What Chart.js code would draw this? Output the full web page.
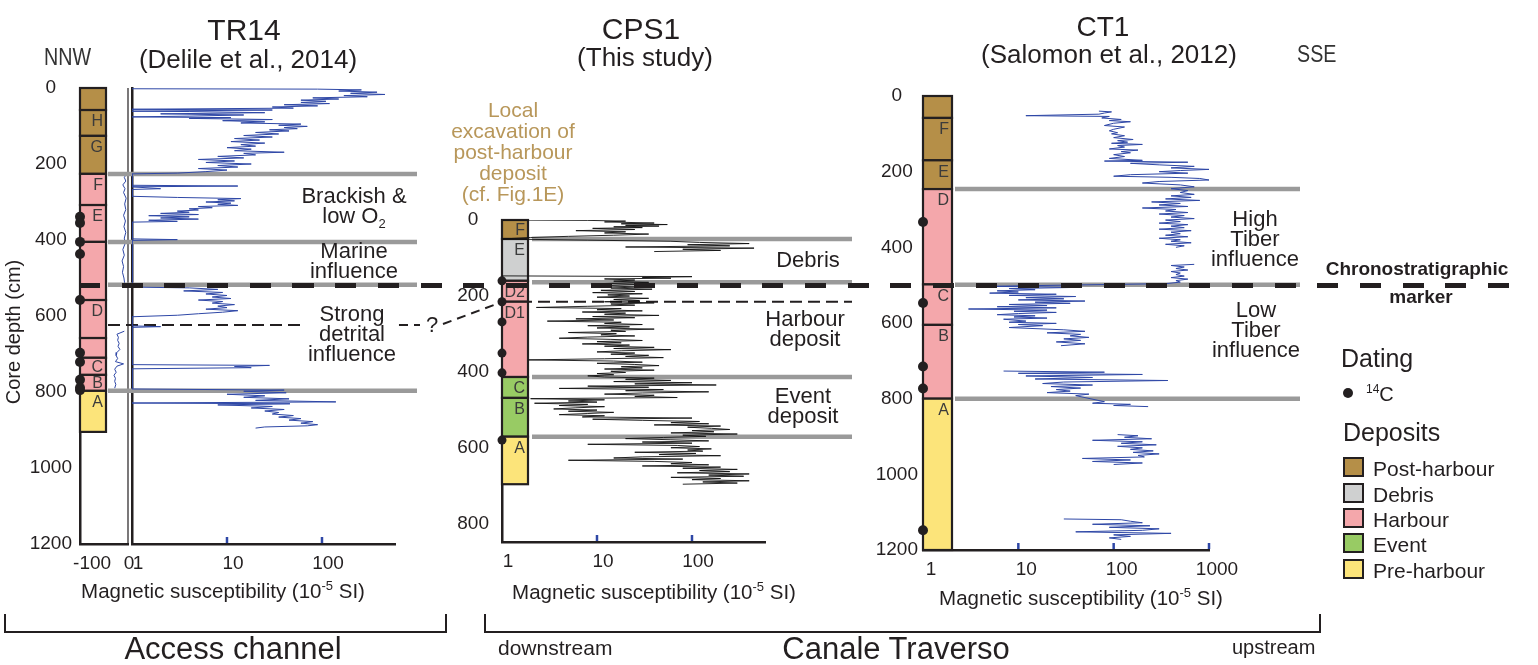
<!DOCTYPE html>
<html>
<head>
<meta charset="utf-8">
<script src="https://cdn.jsdelivr.net/npm/chart.js@4.4.1/dist/chart.umd.min.js"></script>
<style>
  body { margin: 0; background: #fff; }
  #fig { position: relative; width: 1538px; height: 665px; overflow: hidden;
         font-family: "Liberation Sans", Arial, Helvetica, sans-serif; color: #231f20; }
  #fig canvas { position: absolute; }
  .t { position: absolute; white-space: nowrap; }
  .c { transform: translateX(-50%); text-align: center; }
  .note { font-size: 22px; line-height: 20px; }
  .narrow { font-size: 24px; line-height: 24px; color: #333; transform: scaleX(0.82); transform-origin: 0 0; }
  .sw { position: absolute; left: 1343px; width: 21px; height: 20px; border: 2px solid #231f20; box-sizing: border-box; }
  .lg { font-size: 21px; line-height: 21px; left: 1373px; }
  sub, sup { line-height: 0; }
</style>
</head>
<body>
<div id="fig">
  <canvas id="tr14Col" width="148" height="540" style="left:0;top:58px"></canvas>
  <canvas id="tr14Sus" width="340" height="540" style="left:100px;top:58px"></canvas>
  <canvas id="cps1" width="420" height="410" style="left:440px;top:190px"></canvas>
  <canvas id="ct1" width="460" height="540" style="left:860px;top:66px"></canvas>

  <svg width="1538" height="665" style="position:absolute;left:0;top:0">
    <path d="M5 614 V632 H446 V614" fill="none" stroke="#231f20" stroke-width="2"/>
    <path d="M485 614 V632 H1320 V614" fill="none" stroke="#231f20" stroke-width="2"/>
    <line x1="443" y1="324" x2="502" y2="302" stroke="#231f20" stroke-width="2" stroke-dasharray="9 6"/>
  </svg>

  <!-- chronostratigraphic marker -->
  <div style="position:absolute;left:79px;top:283px;width:1431px;height:5px;
       background:repeating-linear-gradient(to right,#231f20 0 21px,transparent 21px 42.7px)"></div>

  <div class="t c" style="left:244px;top:15px;font-size:30px;line-height:30px">TR14</div>
  <div class="t c" style="left:248px;top:46px;font-size:26px;line-height:26px">(Delile et al., 2014)</div>
  <div class="t c" style="left:641px;top:14px;font-size:30px;line-height:30px">CPS1</div>
  <div class="t c" style="left:645px;top:44px;font-size:26px;line-height:26px">(This study)</div>
  <div class="t c" style="left:1103px;top:13px;font-size:28px;line-height:28px">CT1</div>
  <div class="t c" style="left:1109px;top:41px;font-size:26px;line-height:26px">(Salomon et al., 2012)</div>
  <div class="t narrow" style="left:44px;top:45px">NNW</div>
  <div class="t narrow" style="left:1297px;top:42px">SSE</div>

  <div class="t c" style="left:513px;top:99px;font-size:21px;line-height:21px;color:#b8975a">Local<br>excavation of<br>post-harbour<br>deposit<br>(cf. Fig.1E)</div>

  <div class="t" style="left:13px;top:332px;font-size:20px;line-height:20px;transform:translate(-50%,-50%) rotate(-90deg)">Core depth (cm)</div>

  <div class="t c note" style="left:354px;top:186px">Brackish &amp;<br>low O<sub style="font-size:13px">2</sub></div>
  <div class="t c note" style="left:354px;top:241px">Marine<br>influence</div>
  <div class="t c note" style="left:352px;top:304px;background:#fff;padding:0 3px">Strong<br>detrital<br>influence</div>
  <div class="t note" style="left:426px;top:315px">?</div>
  <div class="t c note" style="left:808px;top:250px">Debris</div>
  <div class="t c note" style="left:805px;top:309px">Harbour<br>deposit</div>
  <div class="t c note" style="left:803px;top:386px">Event<br>deposit</div>
  <div class="t c note" style="left:1255px;top:209px">High<br>Tiber<br>influence</div>
  <div class="t c note" style="left:1256px;top:300px">Low<br>Tiber<br>influence</div>
  <div class="t c" style="left:1417px;top:259px;font-size:19px;line-height:19px;font-weight:bold">Chronostratigraphic</div>
  <div class="t c" style="left:1421px;top:287px;font-size:19px;line-height:19px;font-weight:bold">marker</div>

  <div class="t c" style="left:223px;top:581px;font-size:20.5px;line-height:20.5px">Magnetic susceptibility (10<sup style="font-size:13px">-5</sup> SI)</div>
  <div class="t c" style="left:654px;top:582px;font-size:20.5px;line-height:20.5px">Magnetic susceptibility (10<sup style="font-size:13px">-5</sup> SI)</div>
  <div class="t c" style="left:1081px;top:588px;font-size:20.5px;line-height:20.5px">Magnetic susceptibility (10<sup style="font-size:13px">-5</sup> SI)</div>

  <div class="t" style="left:1341px;top:346px;font-size:25px;line-height:25px">Dating</div>
  <div style="position:absolute;left:1343px;top:388px;width:10px;height:10px;border-radius:50%;background:#231f20"></div>
  <div class="t" style="left:1366px;top:384px;font-size:20px;line-height:20px"><sup style="font-size:12px">14</sup>C</div>
  <div class="t" style="left:1343px;top:420px;font-size:25px;line-height:25px">Deposits</div>
  <div class="sw" style="top:457px;background:#b58f48"></div>
  <div class="sw" style="top:483px;background:#cfd0d0"></div>
  <div class="sw" style="top:508px;background:#f4a7ab"></div>
  <div class="sw" style="top:533px;background:#98cb64"></div>
  <div class="sw" style="top:559px;background:#fce47a"></div>
  <div class="t lg" style="top:458px">Post-harbour</div>
  <div class="t lg" style="top:484px">Debris</div>
  <div class="t lg" style="top:509px">Harbour</div>
  <div class="t lg" style="top:534px">Event</div>
  <div class="t lg" style="top:560px">Pre-harbour</div>

  <div class="t c" style="left:233px;top:633px;font-size:31px;line-height:31px">Access channel</div>
  <div class="t c" style="left:896px;top:633px;font-size:31px;line-height:31px">Canale Traverso</div>
  <div class="t" style="left:498px;top:637px;font-size:21px;line-height:21px">downstream</div>
  <div class="t" style="left:1232px;top:637px;font-size:20px;line-height:20px">upstream</div>
</div>

<script>
// depth axis (cm) and susceptibility axis (10^-5 SI) ticks
const depthTicks = [0, 200, 400, 600, 800, 1000, 1200];
const susTicks = [1, 10, 100];
const ct1SusTicks = [1, 10, 100, 1000];

const faciesColors = {
    post: '#b58f48',
    debris: '#cfd0d0',
    harbour: '#f4a7ab',
    event: '#98cb64',
    pre: '#fce47a'
};

// TR14 units (top depth of each unit, cm)
const tr14UnitTops = [0, 58, 126, 226, 308, 405, 558, 658, 710, 755, 797];
const tr14Base = 905;
const tr14UnitLabels = ['', 'H', 'G', 'F', 'E', '', 'D', '', 'C', 'B', 'A'];
const tr14UnitFacies = ['post', 'post', 'post', 'harbour', 'harbour', 'harbour', 'harbour', 'harbour', 'harbour', 'harbour', 'pre'];
const tr14Dates = [339, 355, 405, 437, 558, 697, 721, 768, 789, 795];
const tr14Limits = [226, 405, 797];
const tr14Marker = 518;
const tr14Detrital = 624;

// CPS1 units
const cps1UnitTops = [0, 50, 160, 215, 413, 468, 570];
const cps1Base = 695;
const cps1UnitLabels = ['F', 'E', 'D2', 'D1', 'C', 'B', 'A'];
const cps1UnitFacies = ['post', 'debris', 'harbour', 'harbour', 'event', 'event', 'pre'];
const cps1Dates = [160, 215, 268, 350, 402, 579];
const cps1Limits = [50, 413, 570];
const cps1Marker = 164;
const cps1D2D1 = 215;

// CT1 units
const ct1UnitTops = [0, 58, 170, 246, 498, 605, 800];
const ct1Base = 1200;
const ct1UnitLabels = ['', 'F', 'E', 'D', 'C', 'B', 'A'];
const ct1UnitFacies = ['post', 'post', 'post', 'harbour', 'harbour', 'harbour', 'pre'];
const ct1Dates = [333, 547, 715, 773, 1148];
const ct1Limits = [246, 800];
const ct1Marker = 499;

// magnetic susceptibility logs: [depth, value], null = no measurement
const tr14Sus = [
    [2, 1], [3, 90], [5, 260], [8, 150], [11, 380], [14, 200], [17, 460], [20, 170], [23, 300], [26, 80],
    [29, 150], [32, 60], [35, 110], [38, 60], [41, 120], [44, 40], [47, 90], [50, 30], [53, 50], [56, 1],
    [58, 30], [61, 1], [62, 4], [65, 25], [68, 2], [71, 15], [74, 4], [76, 1], [78, 11], [80, 4],
    [83, 30], [86, 9], [89, 25], [92, 14], [95, 60], [98, 35], [101, 70], [104, 40], [107, 55], [110, 28],
    [113, 45], [117, 20], [121, 35], [125, 15], [129, 30], [133, 12], [137, 22], [141, 11], [145, 25], [149, 14],
    [153, 20], [157, 10], [161, 18], [165, 12], [169, 40], [172, 15], [176, 20], [180, 8], [184, 15], [188, 5],
    [192, 12], [196, 6], [200, 18], [204, 8], [208, 13], [212, 5], [216, 10], [220, 6], [224, 3], [226, 1],
    [256, 1], [258, 13], [260, 1], [265, 2], [267, 1], [285, 1], [288, 3], [291, 14], [294, 8], [297, 12],
    [300, 6], [303, 11], [306, 8], [309, 13], [312, 5], [315, 7], [318, 4], [321, 5], [324, 3], [327, 4],
    [330, 2], [333, 5], [336, 1.5], [339, 4], [342, 2], [345, 5], [348, 1.5], [351, 3], [353, 1], [397, 1],
    [399, 3], [401, 1], [524, 1], [526, 4], [530, 8], [534, 3.5], [538, 9], [542, 6], [546, 10], [550, 7],
    [554, 11], [558, 5], [562, 9], [566, 7], [570, 12], [574, 8], [578, 10], [582, 6], [586, 13], [590, 9],
    [594, 5], [598, 3], [602, 1], [626, 1], [628, 2], [630, 1], [728, 1], [730, 28], [733, 12], [736, 18],
    [739, 1], [792, 1], [795, 40], [798, 15], [802, 42], [806, 10], [810, 25], [814, 15], [818, 45], [822, 20],
    [826, 140], [829, 1], [831, 46], [834, 8], [838, 30], [842, 18], [846, 40], [850, 25], [854, 35], [858, 30],
    [862, 50], [866, 35], [870, 60], [874, 45], [878, 80], [882, 60], [886, 90], [889, 70], [892, 25], [895, 20]
];

// TR14 linear side log (-130..0)
const tr14Aux = [
    [226, -3], [235, -10], [245, -6], [255, -14], [265, -8], [275, -12], [290, -5], [305, -9], [320, -6], [335, -12],
    [350, -7], [365, -11], [380, -6], [395, -10], [410, -8], [425, -14], [440, -10], [455, -16], [470, -12], [485, -15],
    [500, -11], [515, -9], null,
    [640, -10], [648, -30], [656, -26], [664, -28], [672, -24], [680, -27], [688, -22], [696, -30], [704, -32], [712, -28],
    [720, -34], [726, -12], [732, -30], [740, -36], [748, -32], [756, -38], [764, -34], [772, -36], [780, -33], [790, -36]
];

const cps1Sus = [
    [0, 1], [1, 8], [3, 20], [5, 12], [8, 40], [10, 18], [12, 55], [14, 20], [16, 45], [18, 15],
    [20, 30], [22, 9], [25, 25], [28, 6], [31, 20], [34, 12], [37, 35], [40, 15], [43, 5], [46, 2],
    [50, 1], [53, 8], [56, 60], [59, 120], [62, 400], [65, 90], [68, 250], [71, 20], [74, 450], [77, 80],
    [80, 200], [83, 40], null,
    [147, 1], [149, 100], [151, 30], [153, 60], [155, 12], [158, 25], [161, 15], [164, 35], [167, 12], [170, 30],
    [173, 10], [176, 28], [179, 14], [182, 38], [185, 11], [188, 25], [191, 9], [194, 30], [197, 13], [200, 22],
    [203, 10], [206, 35], [209, 15], [212, 28], [215, 12], [218, 40], [221, 14], [224, 25], [227, 8], [230, 2.3],
    [233, 18], [236, 10], [239, 30], [242, 7], [245, 20], [248, 12], [251, 45], [254, 9], [257, 25], [260, 6],
    [263, 15], [266, 3], [269, 18], [272, 12], [275, 30], [278, 8], [281, 22], [284, 10], [287, 40], [290, 14],
    [293, 20], [296, 5], [299, 16], [302, 11], [305, 25], [308, 8], [311, 4], [314, 14], [317, 30], [320, 10],
    [323, 18], [326, 7], [329, 22], [332, 12], [335, 40], [338, 15], [341, 60], [344, 18], [347, 10], [350, 25],
    [353, 14], [356, 35], [359, 20], [362, 50], [365, 12], [368, 1.9], [371, 15], [374, 30], [377, 10], [380, 25],
    [383, 45], [386, 18], [389, 30], [392, 12], [395, 40], [398, 14], [401, 20], [404, 10], [407, 15], [410, 8],
    [413, 12], [416, 40], [419, 20], [422, 60], [425, 15], [428, 100], [431, 25], [434, 180], [437, 8], [440, 35],
    [443, 4], [446, 50], [449, 20], [452, 150], [455, 30], [458, 12], [461, 40], [464, 25], [467, 70], [470, 2],
    [473, 12], [476, 5], [479, 10], [482, 2.2], [485, 8], [488, 4], [491, 12], [494, 6], [497, 3.5], [500, 10],
    [503, 5], [506, 15], [509, 8], [512, 4], [515, 12], [518, 7], [521, 100], [524, 9], [527, 30], [530, 120],
    [533, 60], [536, 150], [539, 40], [542, 200], [545, 90], [548, 160], [551, 250], [554, 100], [557, 170], [560, 60],
    [563, 300], [566, 80], [569, 140], [572, 50], [575, 20], [578, 60], [581, 150], [584, 30], [587, 100], [590, 8],
    [593, 70], [596, 120], [599, 60], [602, 160], [605, 90], [608, 130], [611, 25], [614, 110], [617, 45], [620, 200],
    [623, 30], [626, 15], [629, 80], [632, 5], [635, 40], [638, 100], [641, 60], [644, 150], [647, 30], [650, 200],
    [653, 80], [656, 300], [659, 120], [662, 250], [665, 70], [668, 400], [671, 150], [674, 350], [677, 60], [680, 200],
    [683, 100], [686, 400], [689, 130], [692, 300], [695, 80]
];

const ct1Sus = [
    [40, 70], [42, 95], [45, 80], [48, 70], [52, 12], [54, 90], [58, 75], [62, 120], [65, 90], [68, 150],
    [72, 100], [78, 80], [82, 130], [88, 100], [92, 90], [97, 110], [100, 95], [105, 130], [110, 100], [115, 160],
    [118, 110], [122, 140], [125, 95], [128, 200], [131, 110], [135, 130], [140, 90], [143, 180], [147, 120], [150, 150],
    [155, 100], [160, 130], [165, 90], [170, 200], [172, 80], [175, 600], [178, 150], [182, 300], [186, 700], [190, 400],
    [194, 1000], [197, 500], [200, 300], [204, 600], [208, 150], [212, 100], [215, 400], [218, 800], [222, 1000], [226, 300],
    [230, 200], [235, 500], [240, 700], [245, 400], [250, 600], [255, 500], [260, 700], [264, 400], [268, 650], [272, 350],
    [276, 800], [280, 250], [284, 500], [288, 300], [292, 600], [296, 200], [300, 450], [304, 350], [308, 600], [312, 300],
    [316, 550], [320, 400], [324, 700], [328, 350], [332, 500], [336, 300], [340, 600], [344, 400], [348, 550], [352, 300],
    [356, 650], [360, 400], [364, 500], [368, 350], [372, 600], [376, 300], [380, 500], [384, 400], [388, 650], [392, 350],
    [396, 550], [400, 450], null,
    [445, 700], [448, 400], [452, 550], [456, 450], [460, 600], [464, 400], [468, 500], [472, 450], [476, 550], [480, 400],
    [484, 600], [488, 450], [492, 500], [496, 350], [500, 30], [503, 5], [506, 40], [509, 8], [512, 15], [515, 6],
    [518, 10], [521, 5], [524, 25], [527, 8], [530, 40], [533, 12], [536, 30], [539, 10], [542, 50], [545, 15],
    [548, 35], [551, 8], [554, 20], [557, 6], [560, 25], [563, 3], [566, 20], [569, 9], [572, 25], [575, 10],
    [578, 6], [581, 15], [584, 9], [587, 20], [590, 7], [595, 12], [598, 8], [601, 25], [604, 10], [607, 18],
    [612, 8], [618, 30], [622, 50], [626, 20], [630, 45], [634, 35], [638, 55], [642, 30], [646, 45], [650, 25],
    [655, 50], [660, 28], null,
    [727, 7], [730, 80], [733, 10], [736, 200], [740, 12], [744, 60], [748, 15], [752, 370], [756, 30], [760, 18],
    [764, 60], [768, 22], [772, 45], [776, 25], [780, 35], [784, 20], [788, 55], [792, 40], [808, 80], [812, 60],
    [815, 150], [818, 100], [821, 230], null,
    [895, 110], [898, 180], [902, 130], [906, 250], [910, 60], [914, 200], [918, 120], [922, 280], [926, 110], [930, 200],
    [934, 150], [938, 260], [942, 160], [946, 300], [950, 180], [954, 210], [958, 47], [962, 150], [966, 60], [970, 200],
    [974, 100], null,
    [1118, 30], [1120, 120], [1124, 150], [1128, 200], [1132, 60], [1136, 240], [1140, 90], [1144, 300], [1148, 200], [1152, 40],
    [1156, 400], [1160, 100], [1164, 150], [1168, 90], [1172, 120]
];

Chart.defaults.font.family = '"Liberation Sans", Arial, Helvetica, sans-serif';
Chart.defaults.color = '#231f20';

const INK = '#231f20';
const BLUE = '#2e47a6';
const tickFont = { size: 19 };

// core log column, boundary lines, inner blue ticks
const stratPlugin = {
    id: 'strat',
    beforeDatasetsDraw(chart, args, opts) {
        const { ctx, chartArea: area, scales: { x, y } } = chart;
        ctx.save();
        (opts.lines || []).forEach(l => {
            const py = y.getPixelForValue(l.depth);
            ctx.beginPath();
            ctx.lineWidth = l.width;
            ctx.strokeStyle = l.color;
            ctx.setLineDash(l.dash || []);
            ctx.moveTo(area.left + l.from, py);
            ctx.lineTo(area.right + l.to, py);
            ctx.stroke();
        });
        ctx.setLineDash([]);
        const u = opts.units;
        if (u) {
            const x0 = area.left, w = opts.colWidth;
            u.tops.forEach((top, i) => {
                const bottom = i + 1 < u.tops.length ? u.tops[i + 1] : u.base;
                const py0 = y.getPixelForValue(top), py1 = y.getPixelForValue(bottom);
                ctx.fillStyle = faciesColors[u.facies[i]];
                ctx.fillRect(x0, py0, w, py1 - py0);
                ctx.lineWidth = 2.2;
                ctx.strokeStyle = INK;
                ctx.strokeRect(x0, py0, w, py1 - py0);
                if (u.labels[i]) {
                    ctx.fillStyle = '#3b3b3b';
                    ctx.font = '16px "Liberation Sans", Arial, sans-serif';
                    ctx.textAlign = 'right';
                    ctx.textBaseline = 'middle';
                    ctx.fillText(u.labels[i], x0 + w - 3, Math.min(py0 + 12, (py0 + py1) / 2 + 1));
                }
            });
        }
        if (opts.rule !== undefined) {
            const px = x.getPixelForValue(opts.rule);
            ctx.beginPath();
            ctx.lineWidth = 1.2;
            ctx.strokeStyle = INK;
            ctx.moveTo(px, area.top);
            ctx.lineTo(px, area.bottom);
            ctx.stroke();
        }
        ctx.restore();
    },
    afterDraw(chart, args, opts) {
        const { ctx, chartArea: area, scales: { x } } = chart;
        ctx.save();
        ctx.strokeStyle = BLUE;
        ctx.lineWidth = 2.5;
        (opts.innerTicks || []).forEach(v => {
            const px = x.getPixelForValue(v);
            ctx.beginPath();
            ctx.moveTo(px, area.bottom - 1);
            ctx.lineTo(px, area.bottom - 7);
            ctx.stroke();
        });
        ctx.restore();
    }
};

function depthAxis(max, width, pad, showLabels, borderColor) {
    return {
        type: 'linear', reverse: true, min: 0, max: max,
        grid: { display: false, drawTicks: false },
        border: { display: true, color: borderColor || INK, width: 2.5 },
        ticks: { display: showLabels, font: tickFont, padding: pad, crossAlign: 'center', callback: v => String(v) },
        afterBuildTicks: s => { s.ticks = depthTicks.filter(v => v <= max).map(v => ({ value: v })); },
        afterFit: s => { s.width = width; }
    };
}

function susAxis(type, min, max, tickVals, height, offset) {
    return {
        type: type, min: min, max: max,
        grid: { display: false, drawTicks: false },
        border: { display: true, color: INK, width: 2.5 },
        ticks: { font: tickFont, padding: 8, labelOffset: offset, callback: v => String(v) },
        afterBuildTicks: s => { s.ticks = tickVals.map(v => ({ value: v })); },
        afterFit: s => { s.height = height; }
    };
}

const toPoints = arr => arr.map(p => p ? { x: p[1], y: p[0] } : { x: null, y: null });

function curve(arr, color, width) {
    return { data: toPoints(arr), showLine: true, borderColor: color, borderWidth: width,
             pointRadius: 0, spanGaps: false, tension: 0 };
}

function dots(depths, xVal, r) {
    return { data: depths.map(d => ({ x: xVal, y: d })), pointRadius: r, pointBackgroundColor: INK,
             pointBorderWidth: 0, clip: false };
}

const greyLine = (depth, from, to) => ({ depth, from, to, width: 4.5, color: '#9a9a9a' });

const baseOptions = (scales, padding, strat) => ({
    responsive: false, animation: false, events: [],
    layout: { padding: padding },
    scales: scales,
    plugins: { legend: { display: false }, tooltip: { enabled: false }, strat: strat }
});

// TR14: depth axis, core log and the linear side log
new Chart(document.getElementById('tr14Col'), {
    type: 'scatter',
    data: { datasets: [curve(tr14Aux, BLUE, 1), dots(tr14Dates, -130, 5)] },
    options: baseOptions(
        { x: susAxis('linear', -130, 0, [-100, 0], 54, 1), y: depthAxis(1200, 80, 8, true) },
        { top: 30, right: 20, left: 0, bottom: 0 },
        { colWidth: 26, rule: 0,
          units: { tops: tr14UnitTops, base: tr14Base, labels: tr14UnitLabels, facies: tr14UnitFacies } }
    ),
    plugins: [stratPlugin]
});

// TR14: susceptibility log
new Chart(document.getElementById('tr14Sus'), {
    type: 'scatter',
    data: { datasets: [curve(tr14Sus, BLUE, 1)] },
    options: baseOptions(
        { x: susAxis('logarithmic', 1, 587, susTicks, 54, 6),
          y: Object.assign(depthAxis(1200, 0, 0, false), { afterFit: s => { s.width = 0; } }) },
        { top: 30, right: 45, left: 32, bottom: 0 },
        { innerTicks: [10, 100],
          lines: tr14Limits.map(d => greyLine(d, -24, 22))
              .concat([greyLine(tr14Marker, -24, 22),
                       { depth: tr14Detrital, from: -24, to: 25, width: 2, color: INK, dash: [12, 6] }]) }
    ),
    plugins: [stratPlugin]
});

// CPS1
new Chart(document.getElementById('cps1'), {
    type: 'scatter',
    data: { datasets: [curve(cps1Sus, '#111', 0.9), dots(cps1Dates, 1, 4.5)] },
    options: baseOptions(
        { x: susAxis('logarithmic', 1, 587, susTicks, 58, 6), y: depthAxis(847, 62, 13, true) },
        { top: 30, right: 95, left: 0, bottom: 0 },
        { colWidth: 26, innerTicks: [10, 100],
          units: { tops: cps1UnitTops, base: cps1Base, labels: cps1UnitLabels, facies: cps1UnitFacies },
          lines: cps1Limits.map(d => greyLine(d, 30, 87))
              .concat([greyLine(cps1Marker, 30, 87),
                       { depth: cps1D2D1, from: 0, to: 87, width: 2, color: INK, dash: [12, 6] }]) }
    ),
    plugins: [stratPlugin]
});

// CT1
new Chart(document.getElementById('ct1'), {
    type: 'scatter',
    data: { datasets: [curve(ct1Sus, BLUE, 1), dots(ct1Dates, 1, 5)] },
    options: baseOptions(
        { x: susAxis('logarithmic', 1, 1000, ct1SusTicks, 56, 8), y: depthAxis(1200, 63, 5, true, '#1f2a7a') },
        { top: 30, right: 111, left: 0, bottom: 0 },
        { colWidth: 29, innerTicks: [10, 100, 1000],
          units: { tops: ct1UnitTops, base: ct1Base, labels: ct1UnitLabels, facies: ct1UnitFacies },
          lines: ct1Limits.map(d => greyLine(d, 32, 91)).concat([greyLine(ct1Marker, 32, 91)]) }
    ),
    plugins: [stratPlugin]
});
</script>
</body>
</html>
